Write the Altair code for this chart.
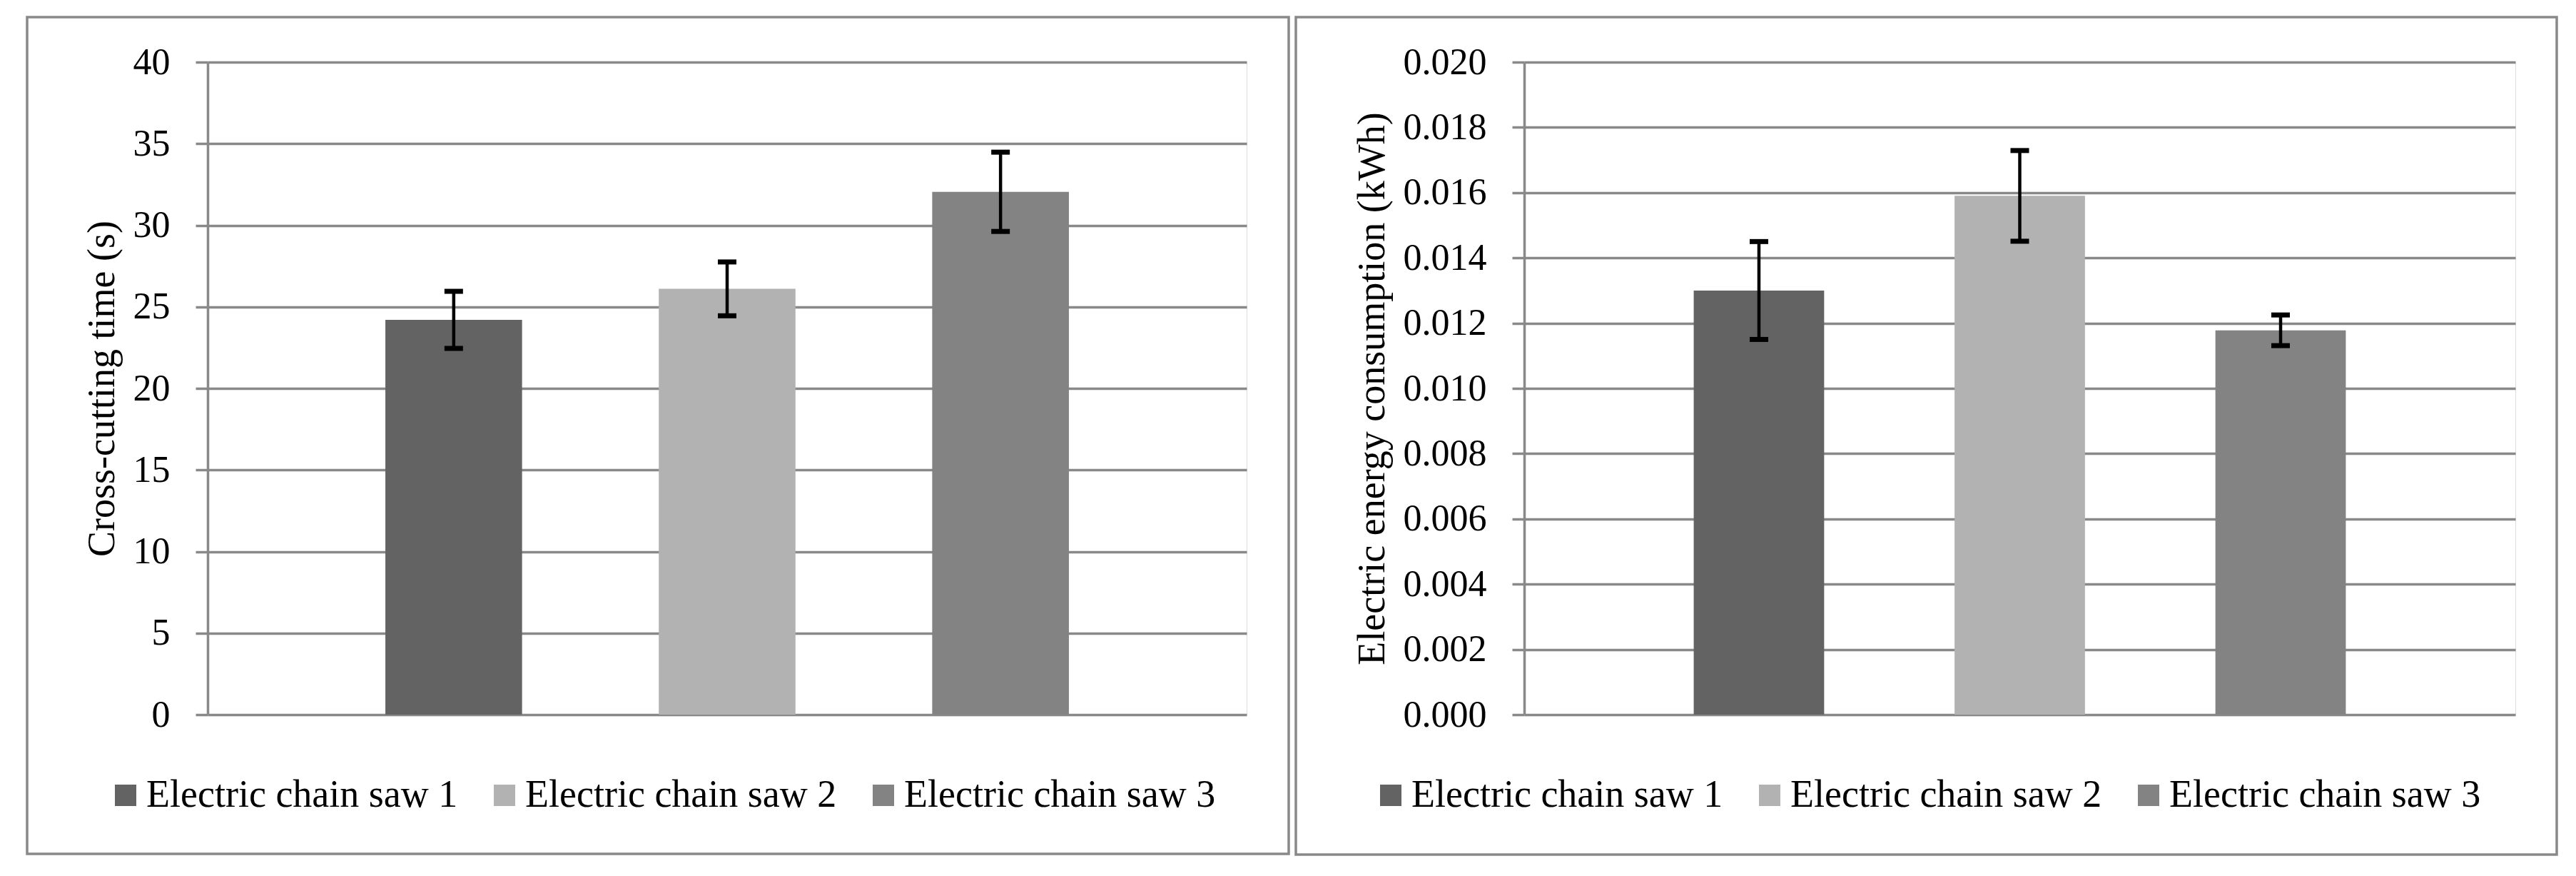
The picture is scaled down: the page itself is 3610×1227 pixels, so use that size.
import altair as alt
import pandas as pd

saws = ["Electric chain saw 1", "Electric chain saw 2", "Electric chain saw 3"]
bar_colors = ["#636363", "#b2b2b2", "#838383"]

time_mean = [24.2, 26.1, 32.05]
time_err = [1.75, 1.65, 2.43]
time_ticks = [0, 5, 10, 15, 20, 25, 30, 35, 40]

energy_mean = [0.0130, 0.0159, 0.01178]
energy_err = [0.00150, 0.00139, 0.00047]
energy_ticks = [0.000, 0.002, 0.004, 0.006, 0.008, 0.010, 0.012, 0.014, 0.016, 0.018, 0.020]

FONT = "Liberation Serif"
GRAY = "#898989"


def panel(mean, err, ytitle, ticks, fmt, ymax, width, border, legend_x):
    df = pd.DataFrame({
        "saw": saws,
        "mean": mean,
        "lo": [m - e for m, e in zip(mean, err)],
        "hi": [m + e for m, e in zip(mean, err)],
    })
    base = alt.Chart(df)
    xenc = alt.X("saw:N", sort=saws, axis=None,
                 scale=alt.Scale(paddingInner=0.5, paddingOuter=0.65))
    yscale = alt.Scale(domain=[0, ymax], nice=False)
    bars = base.mark_bar().encode(
        x=xenc,
        y=alt.Y("mean:Q", scale=yscale, title=ytitle,
                axis=alt.Axis(values=ticks, format=fmt,
                              labelFont=FONT, labelFontSize=52, labelColor="black",
                              labelPadding=36,
                              titleFont=FONT, titleFontSize=54, titleFontWeight="normal",
                              titleColor="black", titlePadding=16,
                              domainColor=GRAY, domainWidth=3.5,
                              tickColor=GRAY, tickWidth=3.5, tickSize=17,
                              grid=True, gridColor=GRAY, gridWidth=3.5)),
        color=alt.Color("saw:N", sort=saws,
                        scale=alt.Scale(domain=saws, range=bar_colors),
                        legend=alt.Legend(title=None, orient="none", direction="horizontal",
                                          columns=3, legendX=legend_x, legendY=1000,
                                          padding=0,
                                          symbolType="square", symbolSize=900,
                                          symbolStrokeWidth=0, symbolOpacity=1,
                                          labelFont=FONT, labelFontSize=54,
                                          labelColor="black", labelOffset=2,
                                          columnPadding=38, labelLimit=1000)),
    )
    rules = base.mark_rule(color="black", strokeWidth=4.5).encode(
        x=xenc, y=alt.Y("lo:Q", scale=yscale), y2="hi:Q")
    cap_lo = base.mark_tick(color="black", thickness=7, size=26, opacity=1).encode(
        x=xenc, y=alt.Y("lo:Q", scale=yscale))
    cap_hi = base.mark_tick(color="black", thickness=7, size=26, opacity=1).encode(
        x=xenc, y=alt.Y("hi:Q", scale=yscale))
    frame = alt.Chart(pd.DataFrame({"f": [0]})).mark_rect(
        fillOpacity=0, stroke=GRAY, strokeWidth=3.5).encode(
        x=alt.value(border[0]), x2=alt.value(border[1]),
        y=alt.value(border[2]), y2=alt.value(border[3]))
    return alt.layer(bars, rules, cap_lo, cap_hi, frame).properties(width=width, height=914)


p1 = panel(time_mean, time_err, "Cross-cutting time (s)", time_ticks, "d", 40,
           1456, (-253, 1515, -63, 1109), -142)
p2 = panel(energy_mean, energy_err, "Electric energy consumption (kWh)", energy_ticks, ".3f", 0.020,
           1389, (-320, 1447, -63, 1110), -214)

chart = alt.hconcat(p1, p2, spacing=4).resolve_scale(
    color="independent", y="independent"
).resolve_legend(color="independent").properties(
    padding={"left": 27, "top": 13, "right": 0, "bottom": 0}
).configure_view(stroke="transparent").configure(
    background="white", font=FONT
).configure_legend(labelFont=FONT, labelFontSize=54, labelColor="black")

chart.save("out.html", embed_options={"renderer": "svg", "actions": False})
